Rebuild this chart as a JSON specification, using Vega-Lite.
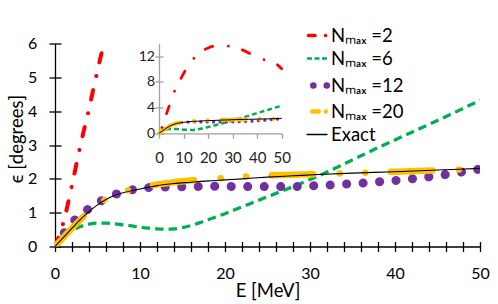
{
  "$schema": "https://vega.github.io/schema/vega-lite/v6.json",
  "width": 425,
  "height": 203,
  "autosize": {"type": "none"},
  "padding": {"left": 55, "top": 43.5, "right": 18, "bottom": 57.5},
  "config": {"font": "Lato", "view": {"stroke": null}},
  "data": {"values": [
    {"series": "Nₘₐₓ =2", "E": 0, "eps": 0}, {"series": "Nₘₐₓ =2", "E": 1, "eps": 0.72}, {"series": "Nₘₐₓ =2", "E": 2, "eps": 1.82},
    {"series": "Nₘₐₓ =2", "E": 3, "eps": 3.0}, {"series": "Nₘₐₓ =2", "E": 4, "eps": 4.07}, {"series": "Nₘₐₓ =2", "E": 5, "eps": 5.2},
    {"series": "Nₘₐₓ =2", "E": 6, "eps": 6.25}, {"series": "Nₘₐₓ =2", "E": 7, "eps": 7.1}, {"series": "Nₘₐₓ =2", "E": 8, "eps": 7.9},
    {"series": "Nₘₐₓ =2", "E": 9, "eps": 8.6}, {"series": "Nₘₐₓ =2", "E": 10, "eps": 9.3}, {"series": "Nₘₐₓ =2", "E": 12, "eps": 10.6},
    {"series": "Nₘₐₓ =2", "E": 14, "eps": 11.6}, {"series": "Nₘₐₓ =2", "E": 16, "eps": 12.35}, {"series": "Nₘₐₓ =2", "E": 18, "eps": 12.9},
    {"series": "Nₘₐₓ =2", "E": 20, "eps": 13.3}, {"series": "Nₘₐₓ =2", "E": 22, "eps": 13.55}, {"series": "Nₘₐₓ =2", "E": 25, "eps": 13.65},
    {"series": "Nₘₐₓ =2", "E": 28, "eps": 13.6}, {"series": "Nₘₐₓ =2", "E": 31, "eps": 13.4}, {"series": "Nₘₐₓ =2", "E": 34, "eps": 13.0},
    {"series": "Nₘₐₓ =2", "E": 37, "eps": 12.45}, {"series": "Nₘₐₓ =2", "E": 40, "eps": 12.0}, {"series": "Nₘₐₓ =2", "E": 43, "eps": 11.45},
    {"series": "Nₘₐₓ =2", "E": 46, "eps": 11.1}, {"series": "Nₘₐₓ =2", "E": 48, "eps": 10.75}, {"series": "Nₘₐₓ =2", "E": 50, "eps": 10.05},

    {"series": "Nₘₐₓ =6", "E": 0, "eps": 0}, {"series": "Nₘₐₓ =6", "E": 1, "eps": 0.26}, {"series": "Nₘₐₓ =6", "E": 2, "eps": 0.46},
    {"series": "Nₘₐₓ =6", "E": 3, "eps": 0.59}, {"series": "Nₘₐₓ =6", "E": 4, "eps": 0.66}, {"series": "Nₘₐₓ =6", "E": 5, "eps": 0.69},
    {"series": "Nₘₐₓ =6", "E": 6, "eps": 0.69}, {"series": "Nₘₐₓ =6", "E": 7, "eps": 0.67}, {"series": "Nₘₐₓ =6", "E": 8, "eps": 0.64},
    {"series": "Nₘₐₓ =6", "E": 9, "eps": 0.61}, {"series": "Nₘₐₓ =6", "E": 10, "eps": 0.57}, {"series": "Nₘₐₓ =6", "E": 11, "eps": 0.54},
    {"series": "Nₘₐₓ =6", "E": 12, "eps": 0.52}, {"series": "Nₘₐₓ =6", "E": 13, "eps": 0.51}, {"series": "Nₘₐₓ =6", "E": 14, "eps": 0.52},
    {"series": "Nₘₐₓ =6", "E": 15, "eps": 0.56}, {"series": "Nₘₐₓ =6", "E": 16, "eps": 0.62}, {"series": "Nₘₐₓ =6", "E": 17, "eps": 0.7},
    {"series": "Nₘₐₓ =6", "E": 18, "eps": 0.79}, {"series": "Nₘₐₓ =6", "E": 19, "eps": 0.88}, {"series": "Nₘₐₓ =6", "E": 20, "eps": 0.97},
    {"series": "Nₘₐₓ =6", "E": 21, "eps": 1.07}, {"series": "Nₘₐₓ =6", "E": 22, "eps": 1.17}, {"series": "Nₘₐₓ =6", "E": 24, "eps": 1.37},
    {"series": "Nₘₐₓ =6", "E": 26, "eps": 1.57}, {"series": "Nₘₐₓ =6", "E": 28, "eps": 1.77}, {"series": "Nₘₐₓ =6", "E": 30, "eps": 1.98},
    {"series": "Nₘₐₓ =6", "E": 32, "eps": 2.2}, {"series": "Nₘₐₓ =6", "E": 34, "eps": 2.44}, {"series": "Nₘₐₓ =6", "E": 36, "eps": 2.68},
    {"series": "Nₘₐₓ =6", "E": 38, "eps": 2.92}, {"series": "Nₘₐₓ =6", "E": 40, "eps": 3.15}, {"series": "Nₘₐₓ =6", "E": 42, "eps": 3.38},
    {"series": "Nₘₐₓ =6", "E": 44, "eps": 3.61}, {"series": "Nₘₐₓ =6", "E": 46, "eps": 3.84}, {"series": "Nₘₐₓ =6", "E": 48, "eps": 4.08},
    {"series": "Nₘₐₓ =6", "E": 50, "eps": 4.32},

    {"series": "Nₘₐₓ =12", "E": 0, "eps": 0}, {"series": "Nₘₐₓ =12", "E": 1, "eps": 0.37}, {"series": "Nₘₐₓ =12", "E": 2, "eps": 0.7},
    {"series": "Nₘₐₓ =12", "E": 3, "eps": 0.93}, {"series": "Nₘₐₓ =12", "E": 4, "eps": 1.12}, {"series": "Nₘₐₓ =12", "E": 5, "eps": 1.29},
    {"series": "Nₘₐₓ =12", "E": 6, "eps": 1.42}, {"series": "Nₘₐₓ =12", "E": 7, "eps": 1.53}, {"series": "Nₘₐₓ =12", "E": 8, "eps": 1.61},
    {"series": "Nₘₐₓ =12", "E": 9, "eps": 1.67}, {"series": "Nₘₐₓ =12", "E": 10, "eps": 1.71}, {"series": "Nₘₐₓ =12", "E": 11, "eps": 1.74},
    {"series": "Nₘₐₓ =12", "E": 12, "eps": 1.75}, {"series": "Nₘₐₓ =12", "E": 14, "eps": 1.76}, {"series": "Nₘₐₓ =12", "E": 16, "eps": 1.77},
    {"series": "Nₘₐₓ =12", "E": 18, "eps": 1.78}, {"series": "Nₘₐₓ =12", "E": 20, "eps": 1.78}, {"series": "Nₘₐₓ =12", "E": 22, "eps": 1.77},
    {"series": "Nₘₐₓ =12", "E": 24, "eps": 1.77}, {"series": "Nₘₐₓ =12", "E": 26, "eps": 1.77}, {"series": "Nₘₐₓ =12", "E": 28, "eps": 1.77},
    {"series": "Nₘₐₓ =12", "E": 30, "eps": 1.79}, {"series": "Nₘₐₓ =12", "E": 32, "eps": 1.81}, {"series": "Nₘₐₓ =12", "E": 34, "eps": 1.84},
    {"series": "Nₘₐₓ =12", "E": 36, "eps": 1.87}, {"series": "Nₘₐₓ =12", "E": 38, "eps": 1.91}, {"series": "Nₘₐₓ =12", "E": 40, "eps": 1.95},
    {"series": "Nₘₐₓ =12", "E": 42, "eps": 2.0}, {"series": "Nₘₐₓ =12", "E": 44, "eps": 2.06}, {"series": "Nₘₐₓ =12", "E": 46, "eps": 2.13},
    {"series": "Nₘₐₓ =12", "E": 48, "eps": 2.21}, {"series": "Nₘₐₓ =12", "E": 50, "eps": 2.29},

    {"series": "Nₘₐₓ =20", "E": 0, "eps": 0}, {"series": "Nₘₐₓ =20", "E": 1, "eps": 0.27}, {"series": "Nₘₐₓ =20", "E": 2, "eps": 0.54},
    {"series": "Nₘₐₓ =20", "E": 3, "eps": 0.8}, {"series": "Nₘₐₓ =20", "E": 4, "eps": 1.04}, {"series": "Nₘₐₓ =20", "E": 5, "eps": 1.25},
    {"series": "Nₘₐₓ =20", "E": 6, "eps": 1.4}, {"series": "Nₘₐₓ =20", "E": 7, "eps": 1.52}, {"series": "Nₘₐₓ =20", "E": 8, "eps": 1.61},
    {"series": "Nₘₐₓ =20", "E": 9, "eps": 1.69}, {"series": "Nₘₐₓ =20", "E": 10, "eps": 1.75}, {"series": "Nₘₐₓ =20", "E": 11, "eps": 1.79},
    {"series": "Nₘₐₓ =20", "E": 12, "eps": 1.83}, {"series": "Nₘₐₓ =20", "E": 14, "eps": 1.9}, {"series": "Nₘₐₓ =20", "E": 16, "eps": 1.95},
    {"series": "Nₘₐₓ =20", "E": 18, "eps": 1.99}, {"series": "Nₘₐₓ =20", "E": 20, "eps": 2.03}, {"series": "Nₘₐₓ =20", "E": 22, "eps": 2.06},
    {"series": "Nₘₐₓ =20", "E": 25, "eps": 2.1}, {"series": "Nₘₐₓ =20", "E": 28, "eps": 2.12}, {"series": "Nₘₐₓ =20", "E": 31, "eps": 2.14},
    {"series": "Nₘₐₓ =20", "E": 35, "eps": 2.17}, {"series": "Nₘₐₓ =20", "E": 40, "eps": 2.21}, {"series": "Nₘₐₓ =20", "E": 45, "eps": 2.25},
    {"series": "Nₘₐₓ =20", "E": 50, "eps": 2.3},

    {"series": "Exact", "E": 0, "eps": 0}, {"series": "Exact", "E": 1, "eps": 0.27}, {"series": "Exact", "E": 2, "eps": 0.54},
    {"series": "Exact", "E": 3, "eps": 0.8}, {"series": "Exact", "E": 4, "eps": 1.03}, {"series": "Exact", "E": 5, "eps": 1.23},
    {"series": "Exact", "E": 6, "eps": 1.39}, {"series": "Exact", "E": 7, "eps": 1.51}, {"series": "Exact", "E": 8, "eps": 1.59},
    {"series": "Exact", "E": 9, "eps": 1.65}, {"series": "Exact", "E": 10, "eps": 1.7}, {"series": "Exact", "E": 11, "eps": 1.75},
    {"series": "Exact", "E": 12, "eps": 1.8}, {"series": "Exact", "E": 14, "eps": 1.86}, {"series": "Exact", "E": 16, "eps": 1.9},
    {"series": "Exact", "E": 18, "eps": 1.94}, {"series": "Exact", "E": 20, "eps": 1.97}, {"series": "Exact", "E": 22, "eps": 2.0},
    {"series": "Exact", "E": 25, "eps": 2.05}, {"series": "Exact", "E": 28, "eps": 2.09}, {"series": "Exact", "E": 31, "eps": 2.13},
    {"series": "Exact", "E": 35, "eps": 2.17}, {"series": "Exact", "E": 40, "eps": 2.21}, {"series": "Exact", "E": 45, "eps": 2.26},
    {"series": "Exact", "E": 50, "eps": 2.31}
  ]},
  "layer": [
    {
      "layer": [
        {
          "transform": [{"filter": {"field": "series", "equal": "Nₘₐₓ =2"}}],
          "mark": {"type": "line", "clip": true, "interpolate": "monotone", "strokeWidth": 4, "strokeDash": [9.5, 14.3, 0.1, 14], "strokeCap": "round"},
          "encoding": {
            "x": {"field": "E", "type": "quantitative", "scale": {"domain": [0, 50], "nice": false},
              "axis": {"orient": "bottom", "offset": -5, "values": [0,2,4,6,8,10,12,14,16,18,20,22,24,26,28,30,32,34,36,38,40,42,44,46,48,50],
                "tickSize": 10, "tickWidth": 1.3, "tickColor": "#000", "domain": false, "grid": false,
                "labelExpr": "datum.value % 10 == 0 ? datum.label : ''", "labelFont": "Lato", "labelFontSize": 16, "labelColor": "#000",
                "labelPadding": 14, "labelFlush": false, "labelOverlap": false,
                "title": "E [MeV]", "titleFont": "Lato", "titleFontSize": 18.5, "titleFontWeight": "normal", "titleColor": "#000",
                "titleX": 212.5, "titleY": 55, "titleAlign": "center", "titleBaseline": "alphabetic"}},
            "y": {"field": "eps", "type": "quantitative", "scale": {"domain": [0, 6], "nice": false},
              "axis": {"orient": "left", "offset": -6, "values": [0,1,2,3,4,5,6], "tickSize": 12, "tickWidth": 1.3, "tickColor": "#000",
                "domain": false, "grid": false, "labelFont": "Lato", "labelFontSize": 16, "labelColor": "#000", "labelPadding": 12.3,
                "labelOverlap": false, "labelFlush": false,
                "title": "ϵ [degrees]", "titleFont": "Lato", "titleFontSize": 18.5, "titleFontWeight": "normal", "titleColor": "#000",
                "titleAngle": 270, "titleX": -39, "titleY": 95, "titleAlign": "center", "titleBaseline": "alphabetic"}},
            "color": {"field": "series", "type": "nominal",
              "scale": {"domain": ["Nₘₐₓ =2", "Nₘₐₓ =6", "Nₘₐₓ =12", "Nₘₐₓ =20", "Exact"], "range": ["#FF0000", "#00B050", "#7030A0", "#FFC000", "#000000"]},
              "legend": {"title": null, "orient": "none", "legendX": 276, "legendY": -8, "direction": "vertical",
                "symbolType": "M-2.4,0L-0.4,0", "symbolSize": 400, "symbolStrokeWidth": 1.5,
                "labelFont": "Lato", "labelFontSize": 18.5, "labelColor": "#000", "labelOffset": 3, "rowPadding": 4, "padding": 0,
                "encode": {"symbols": {"update": {
                  "strokeWidth": {"signal": "isValid(datum.index) ? [3.5, 2.5, 6.5, 4.5, 1.3][datum.index] : 1.5"},
                  "strokeDash": {"signal": "isValid(datum.index) ? [[6.5, 10.5, 0.1, 20], [5, 2.5], [0.1, 13.3], [6.5, 7, 0.1, 4.3, 0.1, 10], [1, 0]][datum.index] : [1, 0]"},
                  "strokeDashOffset": {"signal": "isValid(datum.index) ? [-1.5, 0, -6.3, -5.25, 0][datum.index] : 0"},
                  "strokeCap": {"signal": "datum.index == 1 ? 'butt' : 'round'"},
                  "fill": {"value": null}
                }}}}}
          }
        },
        {
          "transform": [{"filter": {"field": "series", "equal": "Nₘₐₓ =6"}}],
          "mark": {"type": "line", "clip": true, "interpolate": "monotone", "stroke": "#00B050", "strokeWidth": 3.3, "strokeDash": [8.5, 5], "strokeCap": "butt"},
          "encoding": {
            "x": {"field": "E", "type": "quantitative", "scale": {"domain": [0, 50], "nice": false},
              "axis": {"orient": "bottom", "domain": true, "domainColor": "#000", "domainWidth": 1.3, "ticks": false, "labels": false, "grid": false, "title": null}},
            "y": {"field": "eps", "type": "quantitative", "scale": {"domain": [0, 6], "nice": false},
              "axis": {"orient": "left", "domain": true, "domainColor": "#000", "domainWidth": 1.3, "ticks": false, "labels": false, "grid": false, "title": null}}
          }
        },
        {
          "transform": [{"filter": {"field": "series", "equal": "Nₘₐₓ =12"}}],
          "mark": {"type": "line", "clip": true, "interpolate": "monotone", "stroke": "#7030A0", "strokeWidth": 9, "strokeDash": [0.1, 16.4], "strokeCap": "round"},
          "encoding": {
            "x": {"field": "E", "type": "quantitative", "scale": {"domain": [0, 50], "nice": false}, "axis": null},
            "y": {"field": "eps", "type": "quantitative", "scale": {"domain": [0, 6], "nice": false}, "axis": null}
          }
        },
        {
          "transform": [{"filter": {"field": "series", "equal": "Nₘₐₓ =20"}}],
          "mark": {"type": "line", "clip": true, "interpolate": "monotone", "stroke": "#FFC000", "strokeWidth": 6.5, "strokeDash": [41.5, 26.5, 0.1, 25.5, 0.1, 25.5], "strokeCap": "round"},
          "encoding": {
            "x": {"field": "E", "type": "quantitative", "scale": {"domain": [0, 50], "nice": false}, "axis": null},
            "y": {"field": "eps", "type": "quantitative", "scale": {"domain": [0, 6], "nice": false}, "axis": null}
          }
        },
        {
          "transform": [{"filter": {"field": "series", "equal": "Exact"}}],
          "mark": {"type": "line", "clip": true, "interpolate": "monotone", "stroke": "#000000", "strokeWidth": 1.1},
          "encoding": {
            "x": {"field": "E", "type": "quantitative", "scale": {"domain": [0, 50], "nice": false}, "axis": null},
            "y": {"field": "eps", "type": "quantitative", "scale": {"domain": [0, 6], "nice": false}, "axis": null}
          }
        }
      ],
      "resolve": {"axis": {"x": "independent", "y": "independent"}}
    },
    {
      "layer": [
        {
          "transform": [{"filter": {"field": "series", "equal": "Nₘₐₓ =2"}}],
          "mark": {"type": "line", "interpolate": "monotone", "stroke": "#FF0000", "strokeWidth": 2.8, "strokeDash": [8, 15.7, 0.1, 14.5], "strokeDashOffset": 17.2, "strokeCap": "round"},
          "encoding": {
            "x": {"field": "E", "type": "quantitative", "scale": {"domain": [0, 50], "nice": false, "range": [104, 226.7]},
              "axis": {"orient": "bottom", "offset": -113.2, "values": [0, 10, 20, 30, 40, 50], "domainColor": "#a0a0a0", "domainWidth": 1.3,
                "tickColor": "#a0a0a0", "tickSize": 5, "tickWidth": 1.3, "grid": false, "labelFont": "Lato", "labelFontSize": 15,
                "labelColor": "#222", "labelPadding": 12.3, "labelFlush": false, "labelOverlap": false, "title": null}},
            "y": {"field": "eps", "type": "quantitative", "scale": {"domain": [0, 14], "nice": false, "range": [89.8, 0]},
              "axis": {"orient": "left", "offset": -108, "values": [0, 4, 8, 12], "domain": false, "tickColor": "#a0a0a0", "tickSize": 8,
                "tickWidth": 1.3, "grid": false, "labelFont": "Lato", "labelFontSize": 14, "labelColor": "#222", "labelPadding": 0.5,
                "labelFlush": false, "labelOverlap": false, "title": null}}
          }
        },
        {
          "transform": [{"filter": {"field": "series", "equal": "Nₘₐₓ =6"}}],
          "mark": {"type": "line", "interpolate": "monotone", "stroke": "#00B050", "strokeWidth": 2.5, "strokeDash": [5, 3], "strokeCap": "butt"},
          "encoding": {
            "x": {"field": "E", "type": "quantitative", "scale": {"domain": [0, 50], "nice": false, "range": [104, 226.7]}, "axis": null},
            "y": {"field": "eps", "type": "quantitative", "scale": {"domain": [0, 14], "nice": false, "range": [89.8, 0]},
              "axis": {"orient": "left", "offset": -104, "domainColor": "#a0a0a0", "domainWidth": 1.3, "ticks": false, "labels": false, "grid": false, "title": null}}
          }
        },
        {
          "transform": [{"filter": {"field": "series", "equal": "Nₘₐₓ =12"}}],
          "mark": {"type": "line", "interpolate": "monotone", "stroke": "#7030A0", "strokeWidth": 3.2, "strokeDash": [0.1, 6.3], "strokeCap": "round"},
          "encoding": {
            "x": {"field": "E", "type": "quantitative", "scale": {"domain": [0, 50], "nice": false, "range": [104, 226.7]}, "axis": null},
            "y": {"field": "eps", "type": "quantitative", "scale": {"domain": [0, 14], "nice": false, "range": [89.8, 0]}, "axis": null}
          }
        },
        {
          "transform": [{"filter": {"field": "series", "equal": "Nₘₐₓ =20"}}],
          "mark": {"type": "line", "interpolate": "monotone", "stroke": "#FFC000", "strokeWidth": 4, "strokeDash": [24, 14, 0.1, 13.5, 0.1, 14], "strokeCap": "round"},
          "encoding": {
            "x": {"field": "E", "type": "quantitative", "scale": {"domain": [0, 50], "nice": false, "range": [104, 226.7]}, "axis": null},
            "y": {"field": "eps", "type": "quantitative", "scale": {"domain": [0, 14], "nice": false, "range": [89.8, 0]}, "axis": null}
          }
        },
        {
          "transform": [{"filter": {"field": "series", "equal": "Exact"}}],
          "mark": {"type": "line", "interpolate": "monotone", "stroke": "#000000", "strokeWidth": 1},
          "encoding": {
            "x": {"field": "E", "type": "quantitative", "scale": {"domain": [0, 50], "nice": false, "range": [104, 226.7]}, "axis": null},
            "y": {"field": "eps", "type": "quantitative", "scale": {"domain": [0, 14], "nice": false, "range": [89.8, 0]}, "axis": null}
          }
        }
      ],
      "resolve": {"axis": {"x": "independent", "y": "independent"}}
    }
  ],
  "resolve": {"scale": {"x": "independent", "y": "independent"}}
}
